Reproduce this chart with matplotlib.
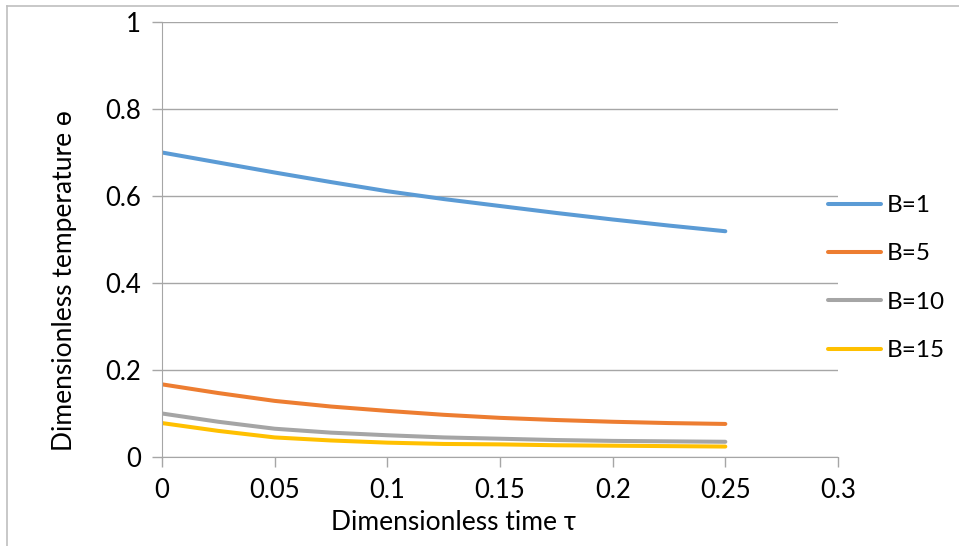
import matplotlib
matplotlib.use("Agg")
import matplotlib.pyplot as plt
from matplotlib.lines import Line2D

tau = [0.0, 0.025, 0.05, 0.075, 0.1, 0.125, 0.15, 0.175, 0.2, 0.225, 0.25]
b1 = [0.700, 0.677, 0.654, 0.632, 0.611, 0.593, 0.577, 0.561, 0.546, 0.532, 0.519]
b5 = [0.167, 0.147, 0.129, 0.116, 0.106, 0.097, 0.090, 0.085, 0.081, 0.078, 0.076]
b10 = [0.100, 0.081, 0.065, 0.056, 0.050, 0.045, 0.042, 0.039, 0.037, 0.036, 0.035]
b15 = [0.078, 0.060, 0.045, 0.038, 0.033, 0.030, 0.029, 0.027, 0.026, 0.025, 0.024]
labels = ["B=1", "B=5", "B=10", "B=15"]
colors = ["#5B9BD5", "#ED7D31", "#A5A5A5", "#FFC000"]
xticks = [0, 0.05, 0.1, 0.15, 0.2, 0.25, 0.3]
xtick_labels = ["0", "0.05", "0.1", "0.15", "0.2", "0.25", "0.3"]
yticks = [0, 0.2, 0.4, 0.6, 0.8, 1.0]
ytick_labels = ["0", "0.2", "0.4", "0.6", "0.8", "1"]

plt.rcParams["font.family"] = ["Lato", "DejaVu Sans"]
grid_c = "#a6a6a6"
W, H = 959, 546

fig = plt.figure(figsize=(W / 100, H / 100), dpi=100)
ax = fig.add_axes([162 / W, 1 - 457 / H, (838 - 162) / W, (457 - 22) / H])

for ys, lab, c in zip([b1, b5, b10, b15], labels, colors):
    ax.plot(tau, ys, color=c, lw=2.9, label=lab, solid_capstyle="round")

ax.set_xlim(0, 0.3)
ax.set_ylim(0, 1)
ax.set_xticks(xticks, xtick_labels)
ax.set_yticks(yticks, ytick_labels)
ax.grid(axis="y", color=grid_c, lw=1)
ax.set_axisbelow(True)
for s in ["top", "right"]:
    ax.spines[s].set_visible(False)
for s in ["left", "bottom"]:
    ax.spines[s].set_color(grid_c)
ax.tick_params(axis="both", colors=grid_c, labelcolor="black", labelsize=18.5,
               length=7, width=1, direction="out")
ax.tick_params(axis="x", pad=8)
ax.tick_params(axis="y", pad=8)

# axis titles placed like the original chart
fig.text(454 / W, 1 - 530 / H, "Dimensionless time τ", fontsize=19,
         ha="center", va="baseline")
fig.text(72 / W, 1 - 281 / H, "Dimensionless temperature ɵ", fontsize=19,
         rotation=90, rotation_mode="anchor", ha="center", va="baseline")

fig.legend(loc="upper left", bbox_to_anchor=(828 / W, 1 - 195 / H),
           frameon=False, fontsize=17.5, handlelength=2.2, handletextpad=0.2,
           labelspacing=1.13, borderaxespad=0, borderpad=0)

# outer chart border (cropped on the right and bottom)
fig.add_artist(Line2D([7 / W, 7 / W], [0, 1 - 6 / H], color="#bfbfbf", lw=1.2))
fig.add_artist(Line2D([7 / W, 1], [1 - 6 / H, 1 - 6 / H], color="#bfbfbf", lw=1.2))

fig.savefig("out.png", dpi=100)
